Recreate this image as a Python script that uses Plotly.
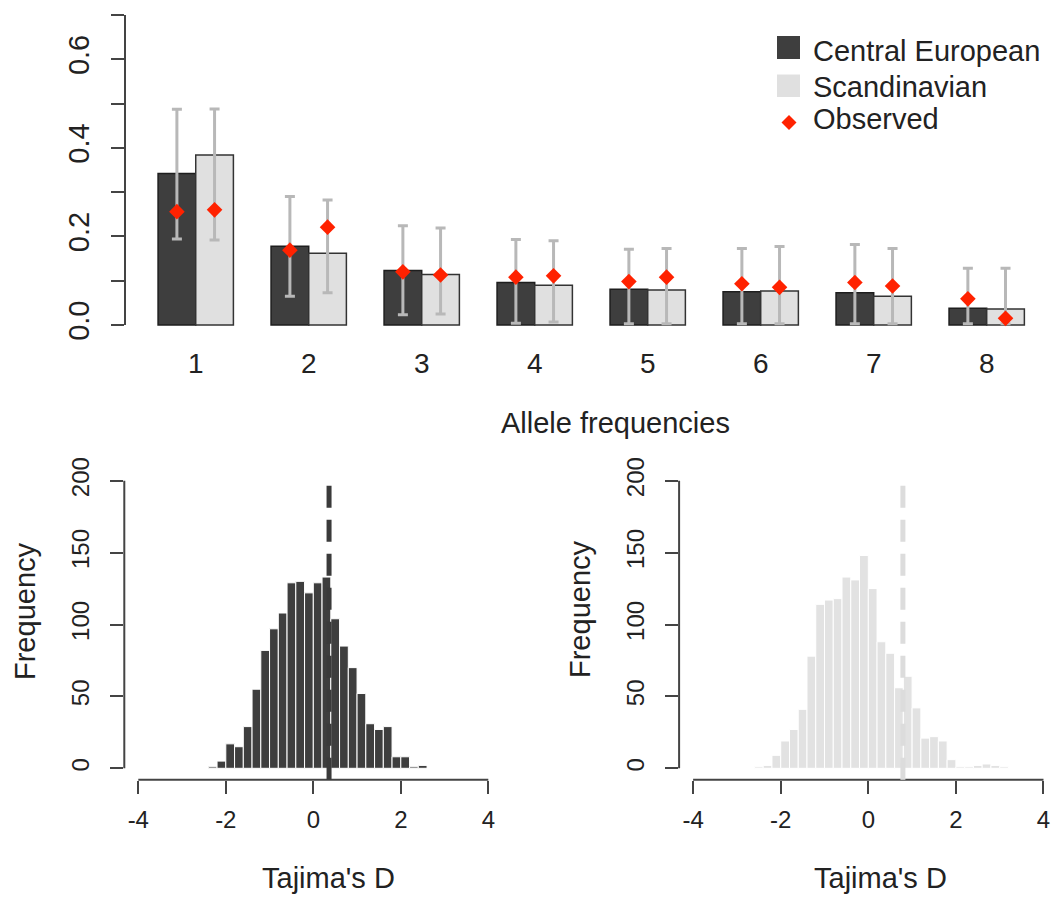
import numpy as np
import plotly.graph_objects as go

# ---------------- data ----------------
categories = [1, 2, 3, 4, 5, 6, 7, 8]
central_mean = [0.342, 0.178, 0.123, 0.096, 0.081, 0.075, 0.073, 0.038]
central_upper = [0.487, 0.290, 0.224, 0.193, 0.171, 0.173, 0.182, 0.128]
central_lower = [0.194, 0.065, 0.023, 0.004, 0.003, 0.003, 0.003, 0.003]
central_observed = [0.256, 0.169, 0.120, 0.108, 0.098, 0.093, 0.096, 0.059]

scand_mean = [0.384, 0.162, 0.114, 0.090, 0.079, 0.077, 0.065, 0.036]
scand_upper = [0.488, 0.282, 0.219, 0.190, 0.173, 0.177, 0.173, 0.128]
scand_lower = [0.192, 0.073, 0.025, 0.007, 0.003, 0.003, 0.003, 0.003]
scand_observed = [0.260, 0.221, 0.113, 0.111, 0.108, 0.085, 0.088, 0.015]

bin_width = 0.2
ce_bin_left = [-2.4, -2.2, -2.0, -1.8, -1.6, -1.4, -1.2, -1.0, -0.8, -0.6, -0.4, -0.2,
               0.0, 0.2, 0.4, 0.6, 0.8, 1.0, 1.2, 1.4, 1.6, 1.8, 2.0, 2.2, 2.4]
ce_counts = [1, 5, 17, 15, 29, 55, 82, 97, 108, 129, 130, 122,
             129, 133, 104, 85, 70, 52, 31, 27, 29, 8, 8, 1, 2]
ce_observed_D = 0.36

sc_bin_left = [-2.6, -2.4, -2.2, -2.0, -1.8, -1.6, -1.4, -1.2, -1.0, -0.8, -0.6, -0.4, -0.2,
               0.0, 0.2, 0.4, 0.6, 0.8, 1.0, 1.2, 1.4, 1.6, 1.8, 2.0, 2.2, 2.4, 2.6, 2.8, 3.0]
sc_counts = [1, 2, 9, 19, 27, 41, 78, 114, 117, 118, 133, 131, 148,
             125, 88, 80, 56, 64, 42, 21, 22, 19, 6, 1, 1, 2, 3, 2, 1]
sc_observed_D = 0.79

bar_ticks = [0.0, 0.1, 0.2, 0.3, 0.4, 0.5, 0.6, 0.7]
bar_ticktext = ["0.0", "", "0.2", "", "0.4", "", "0.6", ""]
hist_yticks = [0, 50, 100, 150, 200]
hist_xticks = [-4, -2, 0, 2, 4]
hist_xticktext = ["-4", "-2", "0", "2", "4"]

# ---------------- style ----------------
W, H = 1058, 898
FONT = "Liberation Sans, Arial, Helvetica, sans-serif"
TXT = "#222222"
AX = "#444444"
DARK = "#3e3e3e"
LIGHT = "#e0e0e0"
ERR = "#b8b8b8"
RED = "#ff2200"


def px(x):
    return x / W


def py(y):
    return 1 - y / H


fig = go.Figure()

cats = np.array(categories, dtype=float)
x_dark = cats - 1 / 6
x_light = cats + 1 / 6
cm = np.array(central_mean)
sm = np.array(scand_mean)

fig.add_trace(go.Bar(
    x=x_dark, y=cm, width=1 / 3, name="Central European",
    marker=dict(color=DARK, line=dict(color="#1e1e1e", width=1.5)),
    error_y=dict(type="data", symmetric=False,
                 array=np.array(central_upper) - cm,
                 arrayminus=cm - np.array(central_lower),
                 color=ERR, thickness=3, width=5),
    xaxis="x", yaxis="y"))
fig.add_trace(go.Bar(
    x=x_light, y=sm, width=1 / 3, name="Scandinavian",
    marker=dict(color=LIGHT, line=dict(color="#333333", width=1.5)),
    error_y=dict(type="data", symmetric=False,
                 array=np.array(scand_upper) - sm,
                 arrayminus=sm - np.array(scand_lower),
                 color=ERR, thickness=3, width=5),
    xaxis="x", yaxis="y"))
fig.add_trace(go.Scatter(
    x=np.concatenate([x_dark, x_light]),
    y=central_observed + scand_observed,
    mode="markers", name="Observed",
    marker=dict(symbol="diamond", size=12, color=RED, line=dict(width=0)),
    xaxis="x", yaxis="y"))

# histograms
fig.add_trace(go.Bar(
    x=np.array(ce_bin_left) + bin_width / 2, y=ce_counts, width=bin_width,
    marker=dict(color=DARK, line=dict(color="white", width=1)),
    xaxis="x2", yaxis="y2"))
fig.add_trace(go.Bar(
    x=np.array(sc_bin_left) + bin_width / 2, y=sc_counts, width=bin_width,
    marker=dict(color="#e2e2e2", line=dict(color="white", width=1)),
    xaxis="x3", yaxis="y3"))

common_axis = dict(showgrid=False, zeroline=False, showline=False, automargin=False,
                   ticks="outside", ticklen=13, tickwidth=2, tickcolor=AX,
                   tickfont=dict(family=FONT, size=24, color=TXT))

top_bottom = 337.4
top_top = 2.6
hist_top = 469.2
hist_bottom = 779.8

fig.update_layout(
    template="none",
    width=W, height=H, autosize=False,
    margin=dict(l=0, r=0, t=0, b=0, pad=0, autoexpand=False),
    paper_bgcolor="white", plot_bgcolor="white",
    showlegend=False, barmode="overlay",
    font=dict(family=FONT, color=TXT),
    xaxis=dict(common_axis, domain=[px(125), 1.0], range=[0.374, 8.631],
               tickvals=categories, ticktext=[str(c) for c in categories],
               ticks="", ticklabelstandoff=7,
               tickfont=dict(family=FONT, size=28, color=TXT), anchor="y"),
    yaxis=dict(common_axis, domain=[py(top_bottom), py(top_top)], range=[-0.028, 0.728],
               tickvals=bar_ticks, ticktext=bar_ticktext, tickangle=-90,
               ticklabelstandoff=10,
               tickfont=dict(family=FONT, size=29, color=TXT), anchor="x"),
    xaxis2=dict(common_axis, domain=[px(124.3), px(502.3)], range=[-4.32, 4.32],
                tickvals=hist_xticks, ticktext=hist_xticktext, ticklabelstandoff=5,
                anchor="y2"),
    yaxis2=dict(common_axis, domain=[py(hist_bottom), py(hist_top)], range=[-8, 208],
                tickvals=hist_yticks, tickangle=-90, ticklabelstandoff=12, anchor="x2"),
    xaxis3=dict(common_axis, domain=[px(679.1), px(1057.5)], range=[-4.32, 4.32],
                tickvals=hist_xticks, ticktext=hist_xticktext, ticklabelstandoff=5,
                anchor="y3"),
    yaxis3=dict(common_axis, domain=[py(hist_bottom), py(hist_top)], range=[-8, 208],
                tickvals=hist_yticks, tickangle=-90, ticklabelstandoff=12, anchor="x3"),
)

shapes = []
# R-style axis lines spanning only the tick range
shapes.append(dict(type="line", xref="x domain", yref="y", x0=0, x1=0, y0=0, y1=0.7,
                   line=dict(color=AX, width=2)))
for xa, ya in (("x2", "y2"), ("x3", "y3")):
    shapes.append(dict(type="line", xref=xa + " domain", yref=ya, x0=0, x1=0, y0=0, y1=200,
                       line=dict(color=AX, width=2)))
    shapes.append(dict(type="line", xref=xa, yref=ya + " domain", x0=-4, x1=4, y0=0, y1=0,
                       line=dict(color=AX, width=2)))
# observed Tajima's D
shapes.append(dict(type="line", xref="x2", yref="y2 domain", x0=ce_observed_D, x1=ce_observed_D,
                   y0=0, y1=0.975, line=dict(color="#3a3a3a", width=5, dash="22px,12px")))
shapes.append(dict(type="line", xref="x3", yref="y3 domain", x0=sc_observed_D, x1=sc_observed_D,
                   y0=0, y1=0.975, line=dict(color="#dcdcdc", width=5, dash="22px,12px")))

# legend symbols
shapes.append(dict(type="rect", xref="paper", yref="paper",
                   x0=px(777), x1=px(800), y0=py(59), y1=py(36),
                   fillcolor=DARK, line=dict(width=0)))
shapes.append(dict(type="rect", xref="paper", yref="paper",
                   x0=px(777), x1=px(800), y0=py(97), y1=py(74.5),
                   fillcolor=LIGHT, line=dict(width=0)))
cx, cy, r = 789, 122.5, 7.5
shapes.append(dict(type="path", xref="paper", yref="paper",
                   path=f"M {px(cx - r)} {py(cy)} L {px(cx)} {py(cy - r)} L {px(cx + r)} {py(cy)} "
                        f"L {px(cx)} {py(cy + r)} Z",
                   fillcolor=RED, line=dict(width=0)))
fig.update_layout(shapes=shapes)

ann = []


def text(t, x, y, size=29, angle=0, xanchor="center"):
    ann.append(dict(text=t, x=px(x), y=py(y), xref="paper", yref="paper",
                    showarrow=False, textangle=angle, xanchor=xanchor, yanchor="middle",
                    font=dict(family=FONT, size=size, color=TXT)))


text("Central European", 811, 51, xanchor="left")
text("Scandinavian", 811, 87, xanchor="left")
text("Observed", 811, 119, xanchor="left")
text("Allele frequencies", 615, 423)
text("Tajima's D", 328, 878)
text("Tajima's D", 880, 878)
text("Frequency", 25, 611, angle=-90)
text("Frequency", 580, 609, angle=-90)
fig.update_layout(annotations=ann)

fig.write_html(
    "out.html",
    config={"displayModeBar": False},
    post_script="document.documentElement.style.margin='0';document.body.style.margin='0';"
                "document.body.style.overflow='hidden';",
)
